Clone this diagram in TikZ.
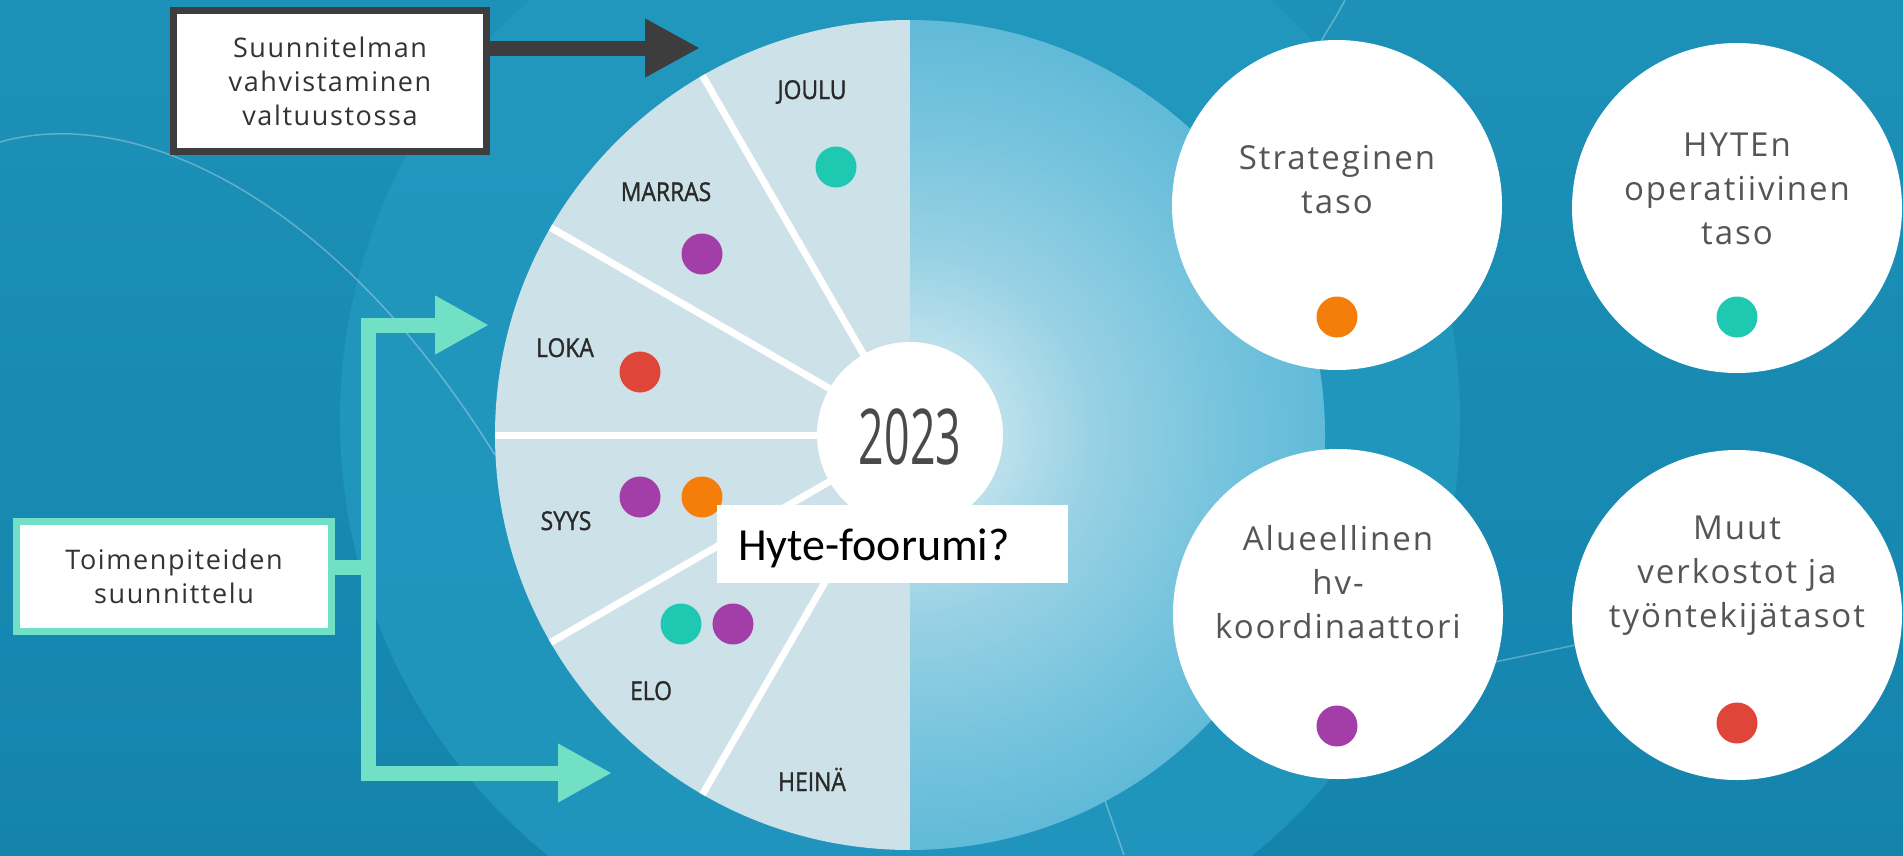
\documentclass[tikz,border=0pt]{standalone}
\usepackage{fontspec}
\setmainfont{Open Sans}
\newfontfamily\trackfont[LetterSpace=6]{Open Sans}
\newfontfamily\monthfont[FakeBold=1.3]{Open Sans}
\newfontfamily\calfont{Carlito}
\usetikzlibrary{arrows.meta}
\definecolor{bgtop}{HTML}{1D91B8}
\definecolor{bgbot}{HTML}{1484AD}
\definecolor{bglight}{HTML}{2399C0}
\definecolor{wheelL}{HTML}{CDE1E9}
\definecolor{wc0}{HTML}{E6F4F8}
\definecolor{wc1}{HTML}{BFE2ED}
\definecolor{wc2}{HTML}{98D1E4}
\definecolor{wc3}{HTML}{7AC5DE}
\definecolor{wc4}{HTML}{60BAD8}
\definecolor{darkarr}{HTML}{3D3D3D}
\definecolor{mint}{HTML}{72E0C4}
\definecolor{dteal}{HTML}{1FC9B1}
\definecolor{dpurple}{HTML}{A33DA7}
\definecolor{dred}{HTML}{E0453A}
\definecolor{dorange}{HTML}{F57D0A}
\definecolor{txtgray}{HTML}{555555}
\definecolor{monthtxt}{HTML}{2A2A2A}
\definecolor{yeartxt}{HTML}{4A4A4A}
\pgfdeclareradialshading{wheelshade}{\pgfpoint{0bp}{0bp}}{color(0bp)=(wc0); color(5bp)=(wc1); color(11bp)=(wc2); color(18bp)=(wc3); color(25bp)=(wc4); color(50bp)=(wc4)}
\tikzset{
  dot/.style={circle, fill=#1, minimum size=41, inner sep=0},
  month/.style={font=\monthfont\fontsize{26}{30}\selectfont, text=monthtxt, inner sep=0, anchor=base, xscale=0.88},
  wcirc/.style={circle, fill=white, minimum size=330, inner sep=0},
  ctext/.style={font=\trackfont\fontsize{33}{44}\selectfont, text=txtgray, align=center, inner sep=0},
  btext/.style={font=\trackfont\fontsize{27}{34}\selectfont, text=black!80, align=center, inner sep=0},
  divider/.style={white, line width=7},
  faint/.style={white, opacity=.3, line width=1.5},
}
\begin{document}
\begin{tikzpicture}[x=1pt,y=-1pt]
\useasboundingbox (0,0) rectangle (1903,855);
% background
\shade[top color=bgtop, bottom color=bgbot] (0,0) rectangle (1903,855);
\fill[bglight, opacity=.8] (900,420) circle (560);
\draw[faint] (0,142) .. controls (130,105) and (330,190) .. (495,455);
\draw[faint] (1345,0) .. controls (1335,20) and (1320,40) .. (1312,60);
\draw[faint] (1490,663) -- (1585,643);
\draw[faint] (1103,795) -- (1124,855);
% wheel
\coordinate (C) at (910,435);
\begin{scope}
\clip (0,0) rectangle (910,855);
\fill[wheelL] (C) circle (415);
\end{scope}
\begin{scope}
\clip (910,0) rectangle (1903,855);
\shade[shading=wheelshade] (C) circle (415);
\end{scope}
\begin{scope}
\clip (C) circle (415);
\foreach \a in {-120,-150,180,-210,-240} \draw[divider] (C) -- ++(\a:420);
\end{scope}
\node[circle, fill=white, minimum size=186, inner sep=0] (yr) at (C) {};
\node[font=\fontsize{77}{80}\selectfont, text=yeartxt, xscale=0.58, inner sep=0] (yrt) at (910,437) {2023};
% months
\node[month] (joulu) at (812,99) {JOULU};
\node[month] (marras) at (666,201) {MARRAS};
\node[month] (loka) at (565,357) {LOKA};
\node[month] (syys) at (566,530) {SYYS};
\node[month] (elo) at (651,700) {ELO};
\node[month] (heina) at (812,791) {HEINÄ};
% dots in wheel
\node[dot=dteal] (d1) at (836,167) {};
\node[dot=dpurple] (d2) at (702,254) {};
\node[dot=dred] (d3) at (640,372) {};
\node[dot=dpurple] (d4) at (640,497) {};
\node[dot=dorange] (d5) at (702,497) {};
\node[dot=dteal] (d6) at (681,624) {};
\node[dot=dpurple] (d7) at (733,624) {};
% Hyte box
\node[fill=white, minimum width=351, minimum height=78, inner sep=0, anchor=north west] (hyte) at (717,505) {};
\node[font=\calfont\fontsize{46}{50}\selectfont, text=black, anchor=base west, inner sep=0] (hytet) at (738,560) {Hyte-foorumi?};
% top-left box and arrow
\node[draw=darkarr, line width=7, fill=white, minimum width=313, minimum height=141, inner sep=0] (sbox) at (330,81) {};
\node[btext] (sboxt) at (330,81) {Suunnitelman\\vahvistaminen\\valtuustossa};
\coordinate (jtip) at (700,48);
\draw[darkarr, line width=15, -{Triangle[width=55pt,length=55pt]}] (sbox.east |- jtip) -- (jtip);
% planning box and mint connectors
\node[draw=mint, line width=7, fill=white, minimum width=315, minimum height=110, inner sep=0] (tbox) at (174,576) {};
\node[btext] (tboxt) at (174,576) {Toimenpiteiden\\suunnittelu};
\coordinate (stub) at (368,567);
\coordinate (tcorner) at (368,325);
\coordinate (bcorner) at (368,773);
\coordinate (ttip) at (489,325);
\coordinate (btip) at (612,773);
\draw[mint, line width=15, line join=miter, {Triangle[width=55pt,length=54pt]}-{Triangle[width=55pt,length=54pt]}] (ttip) -- (tcorner) -- (bcorner) -- (btip);
\draw[mint, line width=15] (tbox.east |- stub) -- (stub);
% right circles
\node[wcirc] (strat) at (1337,205) {};
\node[ctext] (stratt) at (1337,180) {Strateginen\\taso};
\node[dot=dorange] (stratd) at (1337,317) {};
\node[wcirc] (hyten) at (1737,208) {};
\node[ctext] (hytent) at (1737,189) {HYTEn\\operatiivinen\\taso};
\node[dot=dteal] (hytend) at (1737,317) {};
\node[wcirc] (alue) at (1338,614) {};
\node[ctext] (aluet) at (1338,582) {Alueellinen\\hv-\\koordinaattori};
\node[dot=dpurple] (alued) at (1337,726) {};
\node[wcirc] (muut) at (1737,615) {};
\node[ctext] (muutt) at (1737,576) {Muut\\verkostot ja\\työntekijätasot};
\node[dot=dred] (muutd) at (1737,723) {};
\end{tikzpicture}
\end{document}
